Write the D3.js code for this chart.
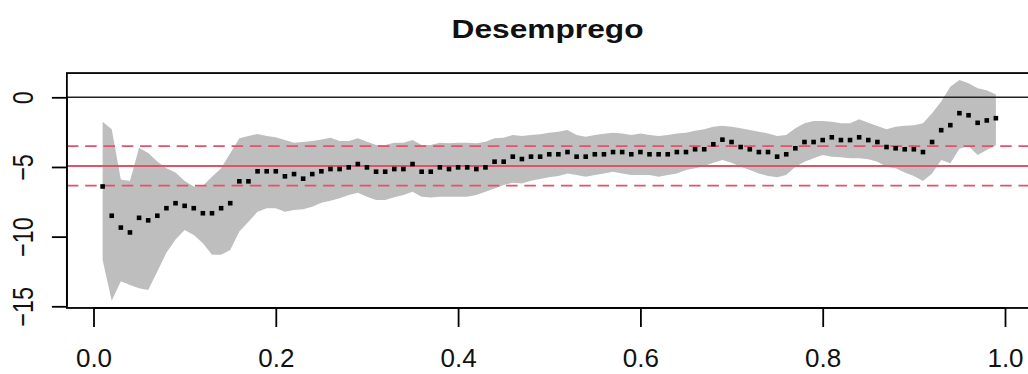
<!DOCTYPE html>
<html>
<head>
<meta charset="utf-8">
<script src="https://cdn.jsdelivr.net/npm/d3@7"></script>
<style>
  html, body { margin: 0; padding: 0; background: #fff; }
  svg { display: block; font-family: 'Liberation Sans', Arial, sans-serif; }
</style>
</head>
<body>
<svg id="chart"></svg>
<script>
// quantile levels on the x axis
const taus = [
  0.01, 0.02, 0.03, 0.04, 0.05, 0.06, 0.07, 0.08, 0.09, 0.10,
  0.11, 0.12, 0.13, 0.14, 0.15, 0.16, 0.17, 0.18, 0.19, 0.20,
  0.21, 0.22, 0.23, 0.24, 0.25, 0.26, 0.27, 0.28, 0.29, 0.30,
  0.31, 0.32, 0.33, 0.34, 0.35, 0.36, 0.37, 0.38, 0.39, 0.40,
  0.41, 0.42, 0.43, 0.44, 0.45, 0.46, 0.47, 0.48, 0.49, 0.50,
  0.51, 0.52, 0.53, 0.54, 0.55, 0.56, 0.57, 0.58, 0.59, 0.60,
  0.61, 0.62, 0.63, 0.64, 0.65, 0.66, 0.67, 0.68, 0.69, 0.70,
  0.71, 0.72, 0.73, 0.74, 0.75, 0.76, 0.77, 0.78, 0.79, 0.80,
  0.81, 0.82, 0.83, 0.84, 0.85, 0.86, 0.87, 0.88, 0.89, 0.90,
  0.91, 0.92, 0.93, 0.94, 0.95, 0.96, 0.97, 0.98, 0.99
]

// coefficient estimates (black points)
const coef = [
  -6.40, -8.50, -9.35, -9.70, -8.65, -8.83, -8.50, -7.96, -7.60, -7.79,
  -7.96, -8.32, -8.32, -7.96, -7.60, -6.03, -6.03, -5.31, -5.31, -5.31,
  -5.67, -5.51, -5.84, -5.51, -5.31, -5.15, -5.15, -5.03, -4.79, -5.03,
  -5.34, -5.34, -5.15, -5.15, -4.79, -5.34, -5.34, -5.03, -5.15, -5.03,
  -5.03, -5.15, -5.03, -4.62, -4.62, -4.26, -4.43, -4.26, -4.26, -4.09,
  -4.09, -3.93, -4.26, -4.26, -4.09, -4.09, -3.93, -3.93, -4.09, -3.93,
  -4.09, -4.09, -4.09, -3.93, -3.93, -3.73, -3.73, -3.37, -3.04, -3.21,
  -3.57, -3.73, -3.93, -3.93, -4.26, -4.09, -3.66, -3.21, -3.21, -3.07,
  -2.87, -3.07, -3.07, -2.87, -3.07, -3.21, -3.57, -3.66, -3.73, -3.73,
  -3.93, -3.21, -2.36, -2.00, -1.14, -1.29, -1.83, -1.66, -1.50
]

// confidence band, upper limit
const upper = [
  -1.75, -2.30, -5.90, -6.00, -3.62, -4.00, -4.60, -5.10, -5.40, -6.00,
  -6.40, -6.35, -5.70, -5.10, -4.02, -2.94, -2.78, -2.63, -2.78, -2.87,
  -3.07, -3.26, -3.20, -3.14, -3.02, -2.90, -3.14, -3.14, -2.94, -3.19,
  -3.42, -3.42, -3.26, -3.26, -3.07, -3.42, -3.42, -3.26, -3.30, -3.26,
  -3.26, -3.30, -3.19, -2.94, -2.90, -2.70, -2.78, -2.70, -2.65, -2.54,
  -2.47, -2.35, -2.70, -2.83, -2.70, -2.62, -2.54, -2.59, -2.70, -2.59,
  -2.70, -2.78, -2.70, -2.59, -2.54, -2.40, -2.30, -2.11, -2.04, -2.11,
  -2.23, -2.35, -2.47, -2.59, -2.78, -2.70, -2.23, -1.87, -1.70, -1.70,
  -1.75, -1.87, -1.87, -1.58, -1.82, -2.06, -2.30, -2.11, -2.05, -2.00,
  -1.87, -1.15, -0.31, 0.76, 1.24, 1.00, 0.65, 0.50, 0.20
]

// confidence band, lower limit
const lower = [
  -11.67, -14.60, -13.20, -13.47, -13.70, -13.83, -12.50, -11.15, -10.20, -9.52,
  -9.88, -10.48, -11.30, -11.30, -10.96, -9.64, -8.93, -8.21, -7.97, -7.97,
  -8.21, -8.09, -8.03, -7.85, -7.57, -7.42, -7.25, -7.01, -6.85, -7.13,
  -7.37, -7.37, -7.18, -7.01, -6.78, -7.13, -7.20, -7.13, -7.13, -7.13,
  -7.13, -7.01, -6.78, -6.54, -6.30, -6.13, -6.18, -5.99, -5.86, -5.74,
  -5.65, -5.46, -5.58, -5.70, -5.58, -5.46, -5.34, -5.46, -5.58, -5.58,
  -5.58, -5.70, -5.58, -5.46, -5.22, -5.10, -4.93, -4.69, -4.50, -4.69,
  -4.98, -5.22, -5.46, -5.65, -5.74, -5.58, -4.98, -4.62, -4.38, -4.14,
  -4.26, -4.30, -4.38, -4.38, -4.45, -4.62, -4.98, -5.10, -5.40, -5.65,
  -6.00, -5.46, -4.50, -4.74, -3.70, -3.50, -4.14, -3.78, -3.45
]

// OLS estimate and its interval (red lines)
const olsCoef = [-4.93]
const olsBand = [-3.50, -6.34]

const xTicks = [0, 0.2, 0.4, 0.6, 0.8, 1.0]
const yTicks = [0, -5, -10, -15]

const title = 'Desemprego'

drawChart()

function drawChart() {
  const w = 1028
  const h = 374
  const red = '#DF536B'

  const data = taus.map((t, i) => ({
    tau: t,
    coef: coef[i],
    lo: lower[i],
    hi: upper[i],
  }))

  const scaleX = d3.scaleLinear().domain([0, 1]).range([93.5, 1005])
  const scaleY = d3.scaleLinear().domain([-15, 0]).range([306.3, 97.3])

  // R style axis limits: 4% beyond the data range
  const xPad = (d3.max(taus) - d3.min(taus)) * 0.04
  const xLim = [d3.min(taus) - xPad, d3.max(taus) + xPad]
  const yLim = [-15.12, 1.74]

  const left = scaleX(xLim[0])
  const right = scaleX(xLim[1])
  const top = scaleY(yLim[1])
  const bottom = scaleY(yLim[0])

  const svg = d3.select('#chart').attr('width', w).attr('height', h)

  svg
    .append('defs')
    .append('clipPath')
    .attr('id', 'plot-clip')
    .append('rect')
    .attr('x', left)
    .attr('y', top)
    .attr('width', right - left)
    .attr('height', bottom - top)

  const plot = svg.append('g').attr('clip-path', 'url(#plot-clip)')

  const area = d3
    .area()
    .x((d) => scaleX(d.tau))
    .y0((d) => scaleY(d.lo))
    .y1((d) => scaleY(d.hi))

  plot
    .append('path')
    .datum(data)
    .attr('d', area)
    .attr('fill', '#BEBEBE')

  // zero line
  plot
    .append('line')
    .attr('x1', left)
    .attr('x2', right)
    .attr('y1', scaleY(0))
    .attr('y2', scaleY(0))
    .attr('stroke', '#222')
    .attr('stroke-width', 1.6)

  plot
    .selectAll('.ols')
    .data(olsCoef)
    .enter()
    .append('line')
    .attr('class', 'ols')
    .attr('x1', left)
    .attr('x2', right)
    .attr('y1', (d) => scaleY(d))
    .attr('y2', (d) => scaleY(d))
    .attr('stroke', red)
    .attr('stroke-width', 1.8)

  plot
    .selectAll('.ols-band')
    .data(olsBand)
    .enter()
    .append('line')
    .attr('class', 'ols-band')
    .attr('x1', left)
    .attr('x2', right)
    .attr('y1', (d) => scaleY(d))
    .attr('y2', (d) => scaleY(d))
    .attr('stroke', red)
    .attr('stroke-width', 1.8)
    .attr('stroke-dasharray', '11.5,6.8')

  const dot = 4.6
  plot
    .selectAll('.dot')
    .data(data)
    .enter()
    .append('rect')
    .attr('class', 'dot')
    .attr('x', (d) => scaleX(d.tau) - dot / 2)
    .attr('y', (d) => scaleY(d.coef) - dot / 2)
    .attr('width', dot)
    .attr('height', dot)
    .attr('fill', '#000')

  // box
  svg
    .append('rect')
    .attr('x', left)
    .attr('y', top)
    .attr('width', right - left)
    .attr('height', bottom - top)
    .attr('fill', 'none')
    .attr('stroke', '#000')
    .attr('stroke-width', 1.8)

  // x axis
  const xAxis = d3
    .axisBottom(scaleX)
    .tickValues(xTicks)
    .tickFormat(d3.format('.1f'))
    .tickSize(19)
    .tickSizeOuter(0)

  const gx = svg
    .append('g')
    .attr('transform', `translate(0, ${bottom})`)
    .call(xAxis)
  gx.select('.domain')
    .attr('d', `M${scaleX(0)},0H${scaleX(1)}`)
    .attr('stroke-width', 1.8)
  gx.selectAll('.tick line').attr('stroke-width', 1.8)
  gx.selectAll('.tick text')
    .attr('y', 366.7 - bottom)
    .attr('dy', 0)
    .attr('fill', '#111')
    .style('font-size', '26px')

  // y axis
  const yAxis = d3.axisLeft(scaleY).tickValues(yTicks).tickSize(15).tickSizeOuter(0)

  const gy = svg
    .append('g')
    .attr('transform', `translate(${left}, 0)`)
    .call(yAxis)
  gy.select('.domain')
    .attr('d', `M0,${scaleY(0)}V${scaleY(-15)}`)
    .attr('stroke-width', 1.8)
  gy.selectAll('.tick line').attr('stroke-width', 1.8)
  gy.selectAll('.tick text')
    .attr('x', null)
    .attr('dy', null)
    .attr('text-anchor', 'middle')
    .attr('transform', `translate(${33.3 - left}, 0) rotate(-90) scale(0.78, 1)`)
    .attr('fill', '#111')
    .style('font-size', '30px')

  svg
    .append('text')
    .attr('x', 547.5)
    .attr('y', 38.3)
    .attr('text-anchor', 'middle')
    .attr('textLength', 192)
    .attr('lengthAdjust', 'spacingAndGlyphs')
    .style('font-size', '25.6px')
    .style('font-weight', 'bold')
    .attr('fill', '#111')
    .text(title)
}
</script>
</body>
</html>
